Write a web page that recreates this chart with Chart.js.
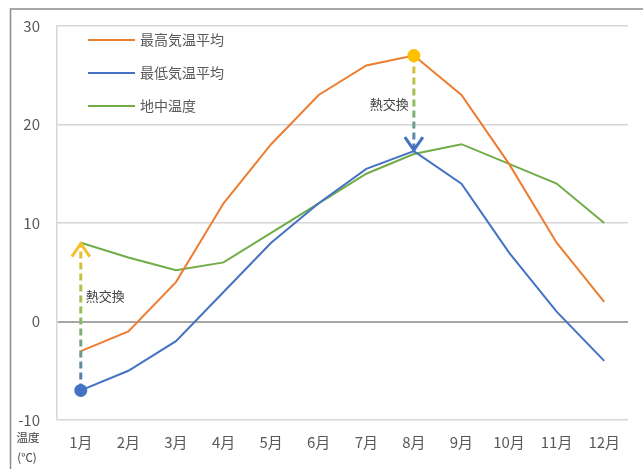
<!DOCTYPE html>
<html>
<head>
<meta charset="utf-8">
<script src="https://cdn.jsdelivr.net/npm/chart.js@4/dist/chart.umd.min.js"></script>
<style>
html,body{margin:0;padding:0;background:#fff;}
#wrap{position:relative;width:643px;height:469px;}
</style>
</head>
<body>
<div id="wrap"><canvas id="c" width="643" height="469"></canvas></div>
<script>
const categories = ['1月','2月','3月','4月','5月','6月','7月','8月','9月','10月','11月','12月'];
const maxTemp = [-3, -1, 4, 12, 18, 23, 26, 27, 23, 16, 8, 2];
const minTemp = [-7, -5, -2, 3, 8, 12, 15.5, 17.3, 14, 7, 1, -4];
const groundTemp = [8, 6.5, 5.2, 6, 9, 12, 15, 17, 18, 16, 14, 10];
const seriesNames = ['最高気温平均', '最低気温平均', '地中温度'];
const yTicks = [-10, 0, 10, 20, 30];
const arrowLabel = '熱交換';
const axisTitle = ['温度', '(°C)'];

const FONT = '"Noto Sans CJK JP", "Noto Sans", sans-serif';
const C_ORANGE = '#ED7D31', C_BLUE = '#4472C4', C_GREEN = '#70AD47', C_YELLOW = '#FFC000';
const C_GRID = '#d6d6d6';

function drawArrow(ctx, x, y0, y1, startCol, endCol) {
  const g = ctx.createLinearGradient(0, y0, 0, y1);
  g.addColorStop(0, startCol);
  g.addColorStop(0.5, '#8DBF5A');
  g.addColorStop(1, endCol);
  ctx.save();
  ctx.strokeStyle = g;
  ctx.lineWidth = 3;
  ctx.setLineDash([7, 4]);
  ctx.beginPath();
  ctx.moveTo(x, y0);
  ctx.lineTo(x, y1);
  ctx.stroke();
  ctx.setLineDash([]);
  const dir = y1 < y0 ? 1 : -1;
  ctx.strokeStyle = endCol;
  ctx.lineWidth = 3;
  ctx.lineJoin = 'miter';
  ctx.beginPath();
  ctx.moveTo(x - 9, y1 + dir * 14);
  ctx.lineTo(x, y1 + dir * 1);
  ctx.lineTo(x + 9, y1 + dir * 14);
  ctx.stroke();
  ctx.restore();
}

const decor = {
  id: 'decor',
  beforeDraw(chart) {
    const ctx = chart.ctx;
    ctx.save();
    ctx.fillStyle = '#fff';
    ctx.fillRect(0, 0, chart.width, chart.height);
    ctx.strokeStyle = '#8c8c8c';
    ctx.lineWidth = 1.5;
    ctx.beginPath();
    ctx.moveTo(10.5, chart.height);
    ctx.lineTo(10.5, 9);
    ctx.lineTo(chart.width, 9);
    ctx.stroke();
    ctx.restore();
  },
  afterDatasetsDraw(chart) {
    const ctx = chart.ctx;
    const a = chart.chartArea;
    const xs = chart.scales.x, ys = chart.scales.y;

    const x1 = xs.getPixelForValue(0);
    drawArrow(ctx, x1, ys.getPixelForValue(minTemp[0]), ys.getPixelForValue(groundTemp[0]), C_BLUE, '#F2C12E');
    const x8 = xs.getPixelForValue(7);
    drawArrow(ctx, x8, ys.getPixelForValue(maxTemp[7]), ys.getPixelForValue(minTemp[7]), '#F2C12E', C_BLUE);
    ctx.save();
    ctx.fillStyle = C_BLUE;
    ctx.beginPath();
    ctx.arc(x1, ys.getPixelForValue(minTemp[0]), 6.5, 0, Math.PI * 2);
    ctx.fill();
    ctx.fillStyle = C_YELLOW;
    ctx.beginPath();
    ctx.arc(x8, ys.getPixelForValue(maxTemp[7]), 6.5, 0, Math.PI * 2);
    ctx.fill();
    ctx.fillStyle = '#404040';
    ctx.font = '13px ' + FONT;
    ctx.textBaseline = 'middle';
    ctx.textAlign = 'left';
    ctx.fillText(arrowLabel, x1 + 5, ys.getPixelForValue(2.6));
    ctx.textAlign = 'right';
    ctx.fillText(arrowLabel, x8 - 5, ys.getPixelForValue(22.1));
    const lx = a.left + 31;
    const cols = [C_ORANGE, C_BLUE, C_GREEN];
    ctx.textAlign = 'left';
    ctx.font = '14px ' + FONT;
    cols.forEach((c, i) => {
      const ly = 40 + i * 33;
      ctx.strokeStyle = c;
      ctx.lineWidth = 2;
      ctx.beginPath();
      ctx.moveTo(lx, ly);
      ctx.lineTo(lx + 47, ly);
      ctx.stroke();
      ctx.fillStyle = '#595959';
      ctx.fillText(seriesNames[i], lx + 52, ly);
    });
    ctx.font = '11.5px ' + FONT;
    ctx.textAlign = 'center';
    ctx.fillStyle = '#404040';
    ctx.fillText(axisTitle[0], 28, 438);
    ctx.fillText(axisTitle[1], 27, 458);
    ctx.restore();
  }
};

new Chart(document.getElementById('c'), {
  type: 'line',
  data: {
    labels: categories,
    datasets: [
      { label: seriesNames[0], data: maxTemp, borderColor: C_ORANGE, borderWidth: 2, pointRadius: 0, tension: 0 },
      { label: seriesNames[1], data: minTemp, borderColor: C_BLUE, borderWidth: 2, pointRadius: 0, tension: 0 },
      { label: seriesNames[2], data: groundTemp, borderColor: C_GREEN, borderWidth: 2, pointRadius: 0, tension: 0 }
    ]
  },
  options: {
    responsive: false,
    animation: false,
    events: [],
    layout: { padding: { left: 10, right: 15, top: 23, bottom: 0 } },
    plugins: { legend: { display: false }, tooltip: { enabled: false } },
    scales: {
      x: {
        offset: true,
        grid: { display: false, drawTicks: false },
        border: { display: false },
        ticks: { color: '#595959', font: { family: FONT, size: 15 }, padding: 13, maxRotation: 0, autoSkip: false },
        afterFit(s) { s.height = 49; }
      },
      y: {
        min: -10, max: 30,
        afterBuildTicks(s) { s.ticks = yTicks.map(v => ({ value: v })); },
        grid: {
          drawTicks: false,
          color: ctx => (ctx.tick && ctx.tick.value === 0) ? '#a6a6a6' : C_GRID,
          lineWidth: ctx => (ctx.tick && ctx.tick.value === 0) ? 2 : 1.5
        },
        border: { display: true, color: C_GRID, width: 1.5 },
        ticks: { color: '#595959', font: { family: FONT, size: 15 }, padding: 17 },
        afterFit(s) { s.width = 47; }
      }
    }
  },
  plugins: [decor]
});
</script>
</body>
</html>
